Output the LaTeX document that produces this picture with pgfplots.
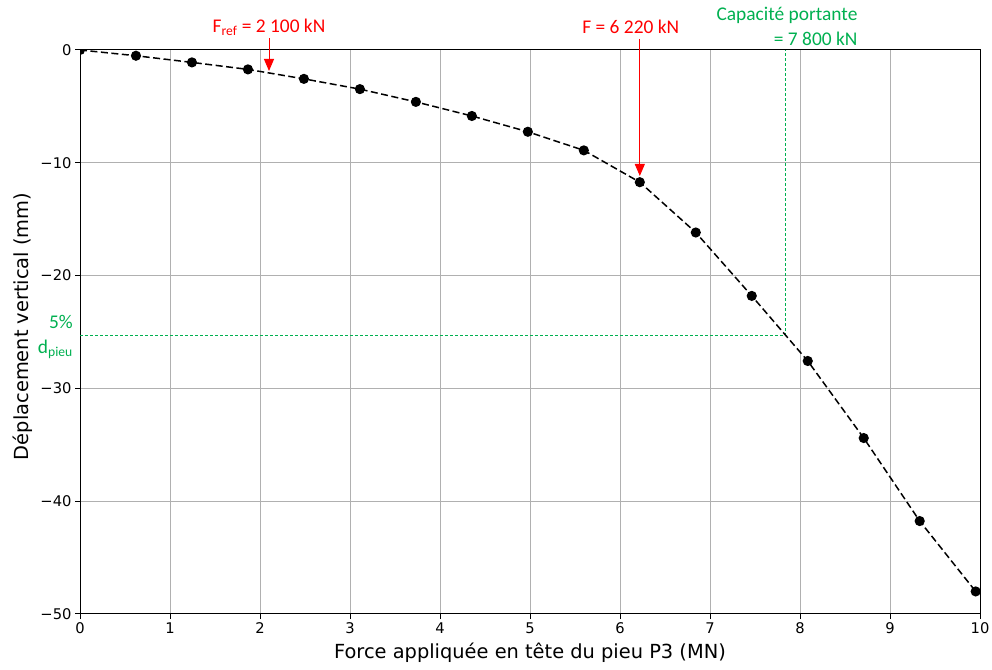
\documentclass[border=0pt]{standalone}
\usepackage{fontspec}
\setmainfont{DejaVu Sans}
\newfontfamily\calibri{Carlito}
\usepackage{pgfplots}
\pgfplotsset{compat=1.18}
\usetikzlibrary{arrows.meta,calc}
\definecolor{annred}{RGB}{255,0,0}
\definecolor{anngreen}{RGB}{0,176,80}
\definecolor{gridgray}{RGB}{176,176,176}
\begin{document}
\begin{tikzpicture}
\begin{axis}[
  name=ax,
  scale only axis, width=900pt, height=564pt,
  xmin=0, xmax=10, ymin=-50, ymax=0,
  xtick={0,1,2,3,4,5,6,7,8,9,10},
  xticklabels={0,1,2,3,4,5,6,7,8,9,10},
  ytick={-50,-40,-30,-20,-10,0},
  yticklabels={−50,−40,−30,−20,−10,0},
  tick pos=left, tick align=outside, major tick length=5pt,
  grid=major, major grid style={gridgray, line width=1pt},
  axis line style={black, line width=1pt},
  tick style={black, line width=1pt},
  ticklabel style={font=\fontsize{14.7}{17}\selectfont},
  label style={font=\fontsize{19.4}{23}\selectfont},
  xlabel={Force appliquée en tête du pieu P3 (MN)},
  ylabel={Déplacement vertical (mm)},
  xlabel style={at={(axis description cs:0.5,-0.069)}, anchor=center},
  ylabel style={at={(axis description cs:-0.064,0.51)}, anchor=center},
  clip marker paths=true,
]
\addplot[anngreen, line width=1pt, dash pattern=on 3pt off 2pt] coordinates {(0,-25.3) (7.84,-25.3) (7.84,0)};
\addplot[black, line width=1.5pt, dash pattern=on 7pt off 3.5pt, mark=*, mark size=4.3pt, mark options={solid}] coordinates {
(0,0) (0.622,-0.51) (1.244,-1.10) (1.866,-1.72) (2.488,-2.56) (3.110,-3.47)
(3.732,-4.60) (4.354,-5.85) (4.976,-7.25) (5.598,-8.90) (6.220,-11.72)
(6.842,-16.18) (7.464,-21.8) (8.086,-27.57) (8.708,-34.4) (9.330,-41.76) (9.952,-48.0)
};
\coordinate (fr0) at (axis cs:2.1,1.06);
\coordinate (fr1) at (axis cs:2.1,-1.86);
\coordinate (frt) at (axis cs:2.1,1.58);
\coordinate (f0) at (axis cs:6.22,0.98);
\coordinate (f1) at (axis cs:6.22,-11.17);
\coordinate (ft) at (axis cs:6.12,1.48);
\coordinate (c1) at (axis cs:8.64,2.62);
\coordinate (c2) at (axis cs:8.64,0.44);
\coordinate (p1) at (axis cs:-0.078,-24.67);
\coordinate (p2) at (axis cs:-0.078,-26.9);
\end{axis}
\tikzset{ann/.style={font=\calibri\fontsize{19.4}{23}\selectfont, inner sep=0pt}}
\draw[annred, line width=1pt, -{Triangle[length=12pt,width=10pt]}] (fr0) -- (fr1);
\draw[annred, line width=1pt, -{Triangle[length=12pt,width=10pt]}] (f0) -- (f1);
\node[ann, annred, anchor=base] at (frt) {F\textsubscript{ref} = 2 100 kN};
\node[ann, annred, anchor=base] at (ft) {F = 6 220 kN};
\node[ann, anngreen, anchor=base east] at (c1) {Capacité portante};
\node[ann, anngreen, anchor=base east] at (c2) {= 7 800 kN};
\node[ann, anngreen, anchor=base east] at (p1) {5\%};
\node[ann, anngreen, anchor=base east] at (p2) {d\textsubscript{pieu}};
\pgfresetboundingbox
\path ($(ax.south west)+(-80pt,-56pt)$) rectangle ($(ax.north east)+(12pt,50pt)$);
\end{tikzpicture}
\end{document}
